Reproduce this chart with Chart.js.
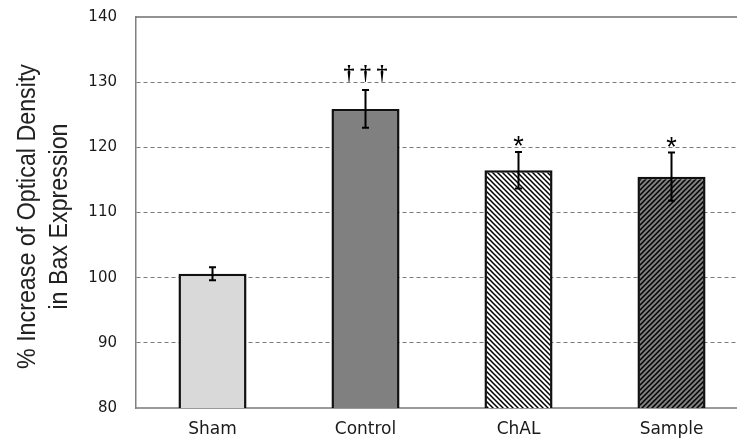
<!DOCTYPE html>
<html>
<head>
<meta charset="utf-8">
<script src="https://cdn.jsdelivr.net/npm/chart.js@4/dist/chart.umd.min.js"></script>
<style>
  html, body { margin: 0; padding: 0; background: #fff; overflow: hidden; }
  #wrap { width: 750px; height: 438px; }
</style>
</head>
<body>
<div id="wrap"><canvas id="c" width="750" height="438"></canvas></div>
<script>
// Bax expression by treatment group (% increase of optical density)
const groups = ['Sham', 'Control', 'ChAL', 'Sample'];
const means = [100.6, 125.9, 116.5, 115.5];
const errors = [1.0, 2.9, 2.8, 3.7];
const marks = ['', '†††', '*', '*'];
const yTicks = [80, 90, 100, 110, 120, 130, 140];
const yTitle = ['% Increase of Optical Density', 'in Bax Expression'];

// Diagonal hatch fill: direction 'back' = \\\ , 'fwd' = ///
function hatch(bg, dir) {
  const s = 5;
  const c = document.createElement('canvas');
  c.width = s; c.height = s;
  const g = c.getContext('2d');
  g.fillStyle = bg;
  g.fillRect(0, 0, s, s);
  g.strokeStyle = '#000';
  g.lineWidth = 1.5;
  g.beginPath();
  if (dir === 'back') {
    g.moveTo(-1, -1); g.lineTo(s + 1, s + 1);
    g.moveTo(-1, s - 1); g.lineTo(1, s + 1);
    g.moveTo(s - 1, -1); g.lineTo(s + 1, 1);
  } else {
    g.moveTo(-1, s + 1); g.lineTo(s + 1, -1);
    g.moveTo(-1, 1); g.lineTo(1, -1);
    g.moveTo(s - 1, s + 1); g.lineTo(s + 1, s - 1);
  }
  g.stroke();
  return g.createPattern(c, 'repeat');
}

const fills = ['#d9d9d9', '#808080', hatch('#ffffff', 'back'), hatch('#7f7f7f', 'fwd')];

// Error bars and significance marks drawn on top of the bars
const errorBars = {
  id: 'errorBars',
  afterDatasetsDraw(chart) {
    const ctx = chart.ctx;
    const y = chart.scales.y;
    const meta = chart.getDatasetMeta(0);
    ctx.save();
    ctx.strokeStyle = '#000';
    ctx.lineWidth = 2;
    meta.data.forEach((bar, i) => {
      const top = y.getPixelForValue(means[i] + errors[i]);
      const bot = y.getPixelForValue(means[i] - errors[i]);
      const x = bar.x;
      ctx.beginPath();
      ctx.moveTo(x, top); ctx.lineTo(x, bot);
      ctx.moveTo(x - 3.5, top); ctx.lineTo(x + 3.5, top);
      ctx.moveTo(x - 3.5, bot); ctx.lineTo(x + 3.5, bot);
      ctx.stroke();
      const m = marks[i];
      if (m) {
        ctx.fillStyle = '#000';
        ctx.textAlign = 'center';
        ctx.textBaseline = 'alphabetic';
        if (m === '*') {
          ctx.font = '27px "Liberation Sans"';
          ctx.fillText(m, x, top + 3);
        } else {
          ctx.font = 'bold 22px "Liberation Serif"';
          ctx.fillText('† † †', x, top - 10);
        }
      }
    });
    ctx.restore();
  }
};

// Solid frame line along the top of the plot area, plus the condensed
// two-line y-axis title
const frameAndTitle = {
  id: 'frameAndTitle',
  afterDraw(chart) {
    const a = chart.chartArea;
    const ctx = chart.ctx;
    ctx.save();
    ctx.strokeStyle = '#6e6e6e';
    ctx.lineWidth = 1.5;
    ctx.beginPath();
    ctx.moveTo(a.left, a.top);
    ctx.lineTo(a.right + 5, a.top);
    ctx.stroke();

    const cy = (a.top + a.bottom) / 2 + 4;
    ctx.fillStyle = '#222';
    ctx.font = '25px "Liberation Sans"';
    ctx.textAlign = 'center';
    ctx.textBaseline = 'middle';
    yTitle.forEach((line, i) => {
      ctx.save();
      ctx.translate(28 + i * 32, cy);
      ctx.rotate(-Math.PI / 2);
      ctx.scale(0.93, 1);
      ctx.fillText(line, 0, 0);
      ctx.restore();
    });
    ctx.restore();
  }
};

new Chart(document.getElementById('c'), {
  type: 'bar',
  data: {
    labels: groups,
    datasets: [{
      data: means,
      backgroundColor: fills,
      borderColor: '#111',
      borderWidth: 2.5,
      borderSkipped: false,
      barPercentage: 0.445,
      categoryPercentage: 1
    }]
  },
  options: {
    responsive: false,
    animation: false,
    events: [],
    layout: { padding: { top: 17, right: 2, left: 0, bottom: 0 } },
    plugins: { legend: { display: false }, tooltip: { enabled: false } },
    scales: {
      x: {
        grid: { display: false, drawTicks: false },
        border: { display: true, color: '#9a9a9a', width: 2 },
        ticks: {
          padding: 11,
          color: '#1a1a1a',
          font: { family: '"DejaVu Sans"', size: 17 }
        },
        afterFit(s) { s.height = 30; }
      },
      y: {
        min: 80,
        max: 140,
        afterBuildTicks(s) { s.ticks = yTicks.map(v => ({ value: v })); },
        grid: {
          drawTicks: false,
          color: ctx => (ctx.tick && (ctx.tick.value === 140 || ctx.tick.value === 80)) ? 'rgba(0,0,0,0)' : '#7a7a7a',
          lineWidth: 1
        },
        border: { display: true, color: '#808080', width: 1.5, dash: [4, 3] },
        ticks: {
          padding: 19,
          color: '#1a1a1a',
          font: { family: '"DejaVu Sans"', size: 15 }
        },
        afterFit(s) {
          s.width = 136;
          s.paddingTop = 0;
          s.paddingBottom = 0;
        }
      }
    }
  },
  plugins: [errorBars, frameAndTitle]
});
</script>
</body>
</html>
